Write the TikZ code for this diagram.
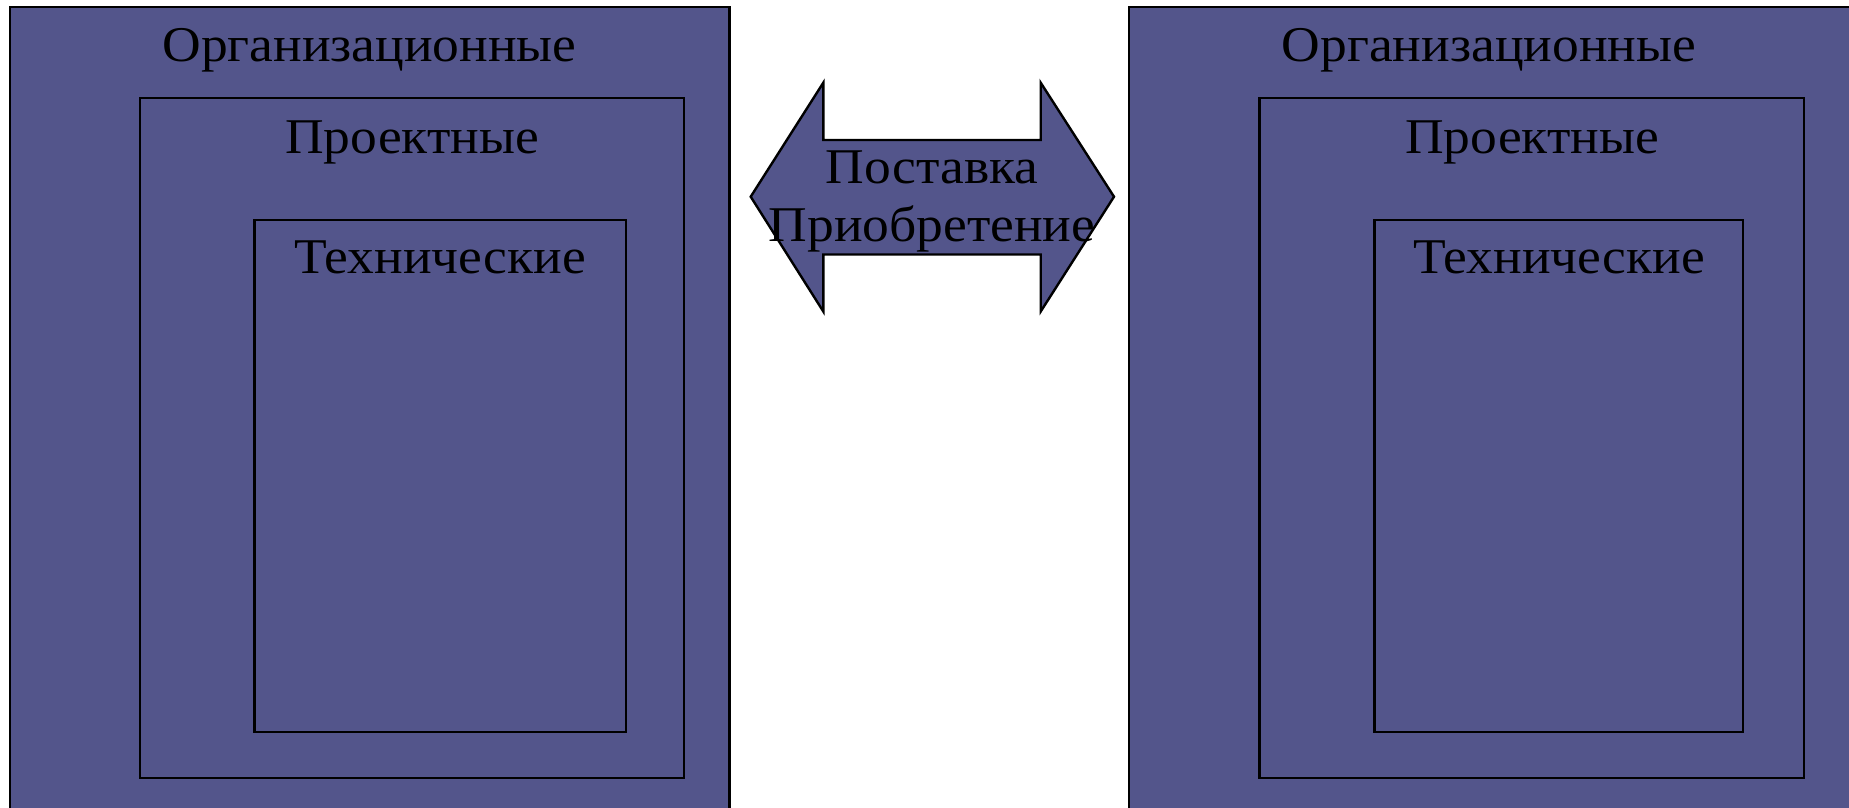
\documentclass[tikz,border=0pt]{standalone}
\usepackage{fontspec}
\setmainfont{Liberation Serif}
\definecolor{boxfill}{RGB}{83,85,139}
\newcommand{\wtxt}[1]{\scalebox{1.07}[1]{#1}}
\tikzset{
  box/.style={draw=black, line width=2.4pt, fill=boxfill, rectangle, inner sep=0pt},
  lbl/.style={anchor=base, inner sep=0pt, font=\fontsize{50}{58}\selectfont},
}
\begin{document}
\begin{tikzpicture}[x=1pt,y=-1pt]
\useasboundingbox (0,0) rectangle (1849,808);
% left group
\draw[box] (9.7,7) rectangle (729.5,825);
\draw[box] (140,97.7) rectangle (684,777.7);
\draw[box] (254.5,220) rectangle (625.7,732);
\node[lbl] (lorg) at (369.6,62) {\wtxt{Организационные}};
\node[lbl] (lproj) at (412,153) {\wtxt{Проектные}};
\node[lbl] (ltech) at (440,273) {\wtxt{Технические}};
% right group
\draw[box] (1129,7) rectangle (1860,825);
\draw[box] (1259.5,97.7) rectangle (1804,777.7);
\draw[box] (1374.5,220) rectangle (1743,732);
\node[lbl] (rorg) at (1489,62) {\wtxt{Организационные}};
\node[lbl] (rproj) at (1532,153) {\wtxt{Проектные}};
\node[lbl] (rtech) at (1559,273) {\wtxt{Технические}};
% double arrow
\draw[box, line join=miter] (750.7,196.7) -- (823.3,82.7) -- (823.3,140) -- (1040.7,140) -- (1040.7,82.7)
  -- (1114,196.7) -- (1040.7,311.5) -- (1040.7,254.5) -- (823.3,254.5) -- (823.3,311.5) -- cycle;
\node[lbl] (sup) at (932,183) {\wtxt{Поставка}};
\node[lbl] (acq) at (932,241) {\wtxt{Приобретение}};
\end{tikzpicture}
\end{document}
